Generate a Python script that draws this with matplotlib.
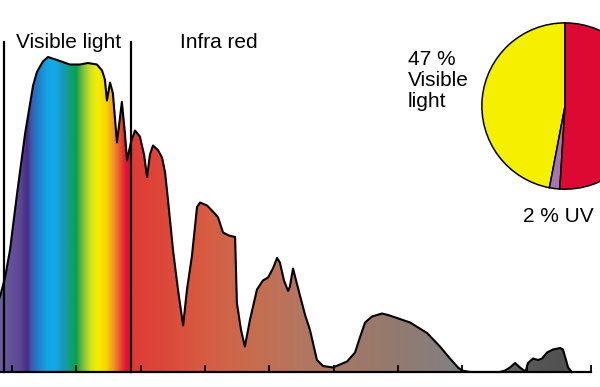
import numpy as np
import matplotlib
matplotlib.use("Agg")
import matplotlib.pyplot as plt
from matplotlib.colors import LinearSegmentedColormap

plt.rcParams['font.family'] = ['Liberation Sans', 'DejaVu Sans']

# Solar spectrum outline (wavelength in nm, relative irradiance)
wavelength = [203, 223, 242, 269, 301, 332, 347, 370, 390, 425, 475, 514, 545, 580,
              600, 611, 619, 631, 642, 658, 677, 689, 697, 712, 728, 747, 763, 775,
              786, 798, 817, 833, 845, 856, 876, 895, 915, 930, 949, 969, 981, 1008,
              1031, 1051, 1070, 1093, 1117, 1124, 1140, 1155, 1175, 1202, 1225, 1245,
              1264, 1280, 1291, 1307, 1323, 1330, 1342, 1354, 1369, 1389, 1408, 1435,
              1459, 1497, 1552, 1583, 1602, 1622, 1649, 1688, 1711, 1746, 1797, 1863,
              1913, 1952, 1983, 1999, 2030, 2146, 2166, 2185, 2205, 2224, 2240, 2247,
              2255, 2275, 2294, 2310, 2329, 2352, 2380, 2391, 2403, 2411, 2426]
irradiance = [0.50, 0.63, 0.81, 1.18, 1.59, 1.91, 2.00, 2.07, 2.10, 2.08, 2.05, 2.05, 2.06, 2.05,
              2.01, 1.95, 1.81, 1.93, 1.86, 1.53, 1.80, 1.59, 1.41, 1.53, 1.61, 1.57, 1.45, 1.30,
              1.45, 1.51, 1.48, 1.43, 1.33, 1.15, 0.81, 0.55, 0.31, 0.55, 0.77, 1.10, 1.13, 1.11,
              1.07, 1.03, 0.93, 0.91, 0.90, 0.46, 0.28, 0.17, 0.35, 0.55, 0.61, 0.63,
              0.69, 0.76, 0.73, 0.61, 0.54, 0.57, 0.69, 0.61, 0.51, 0.38, 0.28, 0.08,
              0.04, 0.03, 0.07, 0.13, 0.23, 0.33, 0.37, 0.39, 0.38, 0.36, 0.33, 0.26,
              0.17, 0.09, 0.03, 0.01, 0.0, 0.0, 0.01, 0.03, 0.06, 0.03, 0.01, 0.01,
              0.06, 0.09, 0.08, 0.09, 0.13, 0.15, 0.16, 0.15, 0.08, 0.03, 0.0]

visible_bounds = [219, 712]
tick_wavelengths = np.arange(250, 2501, 250)

pie_labels = ['Visible light', 'UV', 'Infra red']
pie_shares = [47, 2, 51]

# horizontal colour gradient (nm -> colour)
grad_nm = [203, 281, 308, 324, 351, 386, 417, 448, 475, 498, 522, 553, 580, 615, 642,
           669, 693, 704, 708, 712, 863, 980, 1175, 1369, 1563, 1758, 1952, 2146, 2302, 2535]
grad_col = ['#6d5c9c', '#5a4894', '#482a84', '#3a5cb0', '#1f80cc', '#14a4e4', '#14a8e6',
            '#1898b8', '#10a07a', '#0aa04a', '#70bc40', '#d0e020', '#f5ef00', '#f8d400',
            '#f09a28', '#e85030', '#e0103a', '#e0103a', '#e0103a', '#e03a36', '#dc4a3a',
            '#d85a40', '#c86c4e', '#b47660', '#a07868', '#927a70', '#858080', '#6a6a6a',
            '#555555', '#4a4a4a']

xmin, xmax = 203.4, 2535
ymin, ymax = -0.1, 2.48

fig = plt.figure(figsize=(6, 3.87), dpi=100)
ax = fig.add_axes([0, 0, 1, 1])
ax.set_xlim(xmin, xmax)
ax.set_ylim(ymin, ymax)

pos = [(v - xmin) / (xmax - xmin) for v in grad_nm]
pos[0], pos[-1] = 0.0, 1.0
cmap = LinearSegmentedColormap.from_list('spec', list(zip(pos, grad_col)), N=1024)
gradient = np.linspace(0, 1, 1200).reshape(1, -1)
im = ax.imshow(gradient, extent=[xmin, xmax, 0, ymax], aspect='auto', cmap=cmap,
               interpolation='bilinear', zorder=1)

xs = [wavelength[0]] + wavelength + [wavelength[-1]]
ys = [0] + irradiance + [0]
poly = ax.fill(xs, ys, facecolor='none', edgecolor='none')[0]
im.set_clip_path(poly)
ax.plot(wavelength, irradiance, color='black', lw=1.5, zorder=3, solid_joinstyle='round')

for xv in visible_bounds:
    ax.plot([xv, xv], [0, 2.2], color='black', lw=1.6, zorder=4)

ax.text(266, 2.16, 'Visible light', fontsize=15, va='baseline', ha='left')
ax.text(903, 2.16, 'Infra red', fontsize=15, va='baseline', ha='left')

# axis
for s in ['top', 'left', 'right']:
    ax.spines[s].set_visible(False)
ax.spines['bottom'].set_position(('data', 0))
ax.spines['bottom'].set_bounds(xmin, 2500)
ax.spines['bottom'].set_linewidth(1.6)
ax.spines['bottom'].set_zorder(5)
ax.set_xticks(tick_wavelengths)
ax.set_xticklabels([])
ax.set_yticks([])
ax.tick_params(axis='x', direction='in', length=5, width=1.3)

# pie
pax = fig.add_axes([0.8017, 0.509, 0.28, 0.434])
pax.pie(pie_shares, colors=['#f5f000', '#a676b0', '#dc0a32'], startangle=90,
        counterclock=True, wedgeprops=dict(edgecolor='black', linewidth=1.1))
pax.set_xlim(-1.01, 1.01)
pax.set_ylim(-1.01, 1.01)
pax.set_aspect('equal')

fig.text(408 / 600, 1 - 65 / 387, '47 %', fontsize=15, va='baseline')
fig.text(408 / 600, 1 - 86 / 387, 'Visible', fontsize=15, va='baseline')
fig.text(408 / 600, 1 - 107 / 387, 'light', fontsize=15, va='baseline')
fig.text(523 / 600, 1 - 222 / 387, '2 % UV', fontsize=15, va='baseline')

plt.savefig('out.png', dpi=100)
